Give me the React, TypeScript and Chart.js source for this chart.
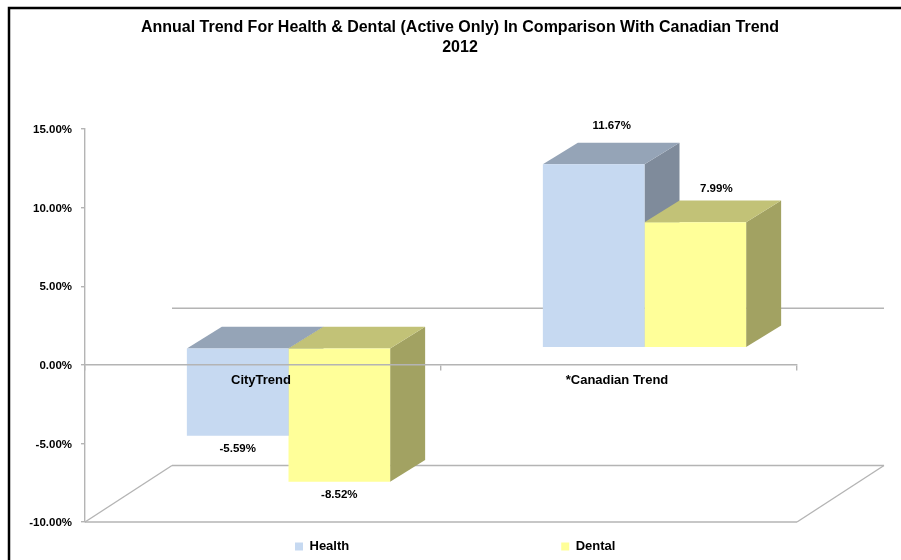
import React, { useEffect, useRef } from "react";
import { Chart, registerables } from "chart.js";

Chart.register(...registerables);

const titleLines = ["Annual Trend For Health & Dental (Active Only) In Comparison With Canadian Trend", "2012"];
const categories = ["CityTrend", "*Canadian Trend"];
const healthValues = [-5.59, 11.67];
const dentalValues = [-8.52, 7.99];
const yMin = -10;
const yMax = 15;
const yStep = 5;

const FONT = "'Liberation Sans', Arial, sans-serif";
const LINE = "#b4b4b4";
const LINE_WIDTH = 1.4;
// 3D projection constants
const WALL_DX = 87;
const WALL_DY = -56.5;
const BAR_OX = 25.5;
const BAR_OY = -17;
const BAR_DX = 35;
const BAR_DY = -21.7;
const faces = [
  { top: "#95a4b7", side: "#7f8b9b" },
  { top: "#c2c277", side: "#a2a262" },
];
const labelShift = [
  { x: 18, up: 39 },
  { x: 21, up: 33 },
];

const poly = (ctx: CanvasRenderingContext2D, pts: number[][], fill: string) => {
  ctx.beginPath();
  pts.forEach(([x, y], i) => (i ? ctx.lineTo(x, y) : ctx.moveTo(x, y)));
  ctx.closePath();
  ctx.fillStyle = fill;
  ctx.fill();
};

const line = (ctx: CanvasRenderingContext2D, x1: number, y1: number, x2: number, y2: number) => {
  ctx.beginPath();
  ctx.moveTo(x1, y1);
  ctx.lineTo(x2, y2);
  ctx.stroke();
};

const chart3d = {
  id: "chart3d",
  afterLayout(chart: any) {
    chart.titleBlock.left = 19;
    chart.titleBlock.right = 901;
    const pad = chart.legend.options.labels.padding;
    chart.legend.left = 295 - pad;
    chart.legend.right = 901;
    chart.legend.top = 540 - pad;
    chart.legend.bottom = 560;
  },
  beforeDraw(chart: any) {
    const { ctx, width, height } = chart;
    ctx.save();
    ctx.fillStyle = "#fff";
    ctx.fillRect(0, 0, width, height);
    ctx.strokeStyle = "#000";
    ctx.lineWidth = 2.5;
    ctx.beginPath();
    ctx.moveTo(9, height);
    ctx.lineTo(9, 8);
    ctx.lineTo(width, 8);
    ctx.stroke();
    ctx.restore();
  },
  beforeDatasetsDraw(chart: any) {
    const { ctx, scales } = chart;
    const left = scales.x.left;
    const right = scales.x.right;
    const zero = scales.y.getPixelForValue(0);
    const floor = scales.y.getPixelForValue(yMin);
    ctx.save();
    ctx.strokeStyle = LINE;
    ctx.lineWidth = LINE_WIDTH;
    line(ctx, left + WALL_DX, zero + WALL_DY, right + WALL_DX, zero + WALL_DY);
    line(ctx, left + WALL_DX, floor + WALL_DY, right + WALL_DX, floor + WALL_DY);
    line(ctx, left, floor, right, floor);
    line(ctx, left, floor, left + WALL_DX, floor + WALL_DY);
    line(ctx, right, floor, right + WALL_DX, floor + WALL_DY);
    chart.data.datasets.forEach((_: any, d: number) => {
      chart.getDatasetMeta(d).data.forEach((el: any) => {
        const p = el.getProps(["x", "y", "base", "width"], true);
        const l = p.x - p.width / 2 + BAR_OX;
        const r = p.x + p.width / 2 + BAR_OX;
        const t = Math.min(p.y, p.base) + BAR_OY;
        const b = Math.max(p.y, p.base) + BAR_OY;
        poly(ctx, [[r, t], [r + BAR_DX, t + BAR_DY], [r + BAR_DX, b + BAR_DY], [r, b]], faces[d].side);
        poly(ctx, [[l, t], [r, t], [r + BAR_DX, t + BAR_DY], [l + BAR_DX, t + BAR_DY]], faces[d].top);
      });
    });
    ctx.restore();
    ctx.save();
    ctx.translate(BAR_OX, BAR_OY);
  },
  afterDatasetsDraw(chart: any) {
    const { ctx } = chart;
    ctx.restore();
    ctx.save();
    ctx.fillStyle = "#000";
    ctx.font = `bold 11.5px ${FONT}`;
    ctx.textAlign = "center";
    ctx.textBaseline = "middle";
    chart.data.datasets.forEach((ds: any, d: number) => {
      chart.getDatasetMeta(d).data.forEach((el: any, i: number) => {
        const p = el.getProps(["x", "y", "base"], true);
        const v = ds.data[i];
        const text = v.toFixed(2) + "%";
        if (v >= 0) {
          ctx.fillText(text, p.x + BAR_OX + labelShift[d].x, p.y + BAR_OY - labelShift[d].up);
        } else {
          ctx.fillText(text, p.x + BAR_OX, p.y + BAR_OY + 13);
        }
      });
    });
    ctx.restore();
  },
};

export default function App() {
  const ref = useRef<HTMLCanvasElement>(null);
  useEffect(() => {
    const chart = new Chart(ref.current as HTMLCanvasElement, {
      type: "bar",
      data: {
        labels: categories,
        datasets: [
          { label: "Health", data: healthValues, backgroundColor: "#c6d9f1", categoryPercentage: 0.571, barPercentage: 1, clip: false },
          { label: "Dental", data: dentalValues, backgroundColor: "#ffff99", categoryPercentage: 0.571, barPercentage: 1, clip: false },
        ],
      } as any,
      options: {
        animation: false,
        responsive: false,
        layout: { padding: { left: 0, right: 104, top: 0, bottom: 0 } },
        plugins: {
          title: {
            display: true,
            text: titleLines,
            color: "#000",
            font: { family: FONT, size: 16, weight: "bold", lineHeight: 20 / 16 },
            padding: { top: 18, bottom: 71 },
          },
          legend: {
            position: "bottom",
            align: "start",
            maxHeight: 38,
            labels: {
              padding: 212,
              boxWidth: 8,
              boxHeight: 8,
              color: "#000",
              font: { family: FONT, size: 13, weight: "bold" },
            },
          },
          tooltip: { enabled: false },
        },
        scales: {
          x: {
            position: { y: 0 },
            grid: { display: true, drawOnChartArea: false, drawTicks: true, tickLength: 5, color: LINE, lineWidth: LINE_WIDTH, z: 1 },
            border: { display: true, color: LINE, width: LINE_WIDTH, z: 1 },
            ticks: {
              z: 1,
              color: "#000",
              padding: 3,
              labelOffset: -2,
              autoSkip: false,
              maxRotation: 0,
              font: { family: FONT, size: 13, weight: "bold" },
            },
          },
          y: {
            min: yMin,
            max: yMax,
            afterFit(scale: any) {
              scale.width = 85;
            },
            grid: { display: true, drawOnChartArea: false, drawTicks: true, tickLength: 4, color: LINE, lineWidth: LINE_WIDTH },
            border: { display: true, color: LINE, width: LINE_WIDTH },
            ticks: {
              stepSize: yStep,
              color: "#000",
              padding: 9,
              labelOffset: 1,
              font: { family: FONT, size: 11.5, weight: "bold" },
              callback: (v: any) => Number(v).toFixed(2) + "%",
            },
          },
        },
      } as any,
      plugins: [chart3d as any],
    });
    return () => chart.destroy();
  }, []);
  return (
    <canvas
      ref={ref}
      width={901}
      height={560}
      style={{ position: "fixed", left: 0, top: 0, display: "block" }}
    />
  );
}
